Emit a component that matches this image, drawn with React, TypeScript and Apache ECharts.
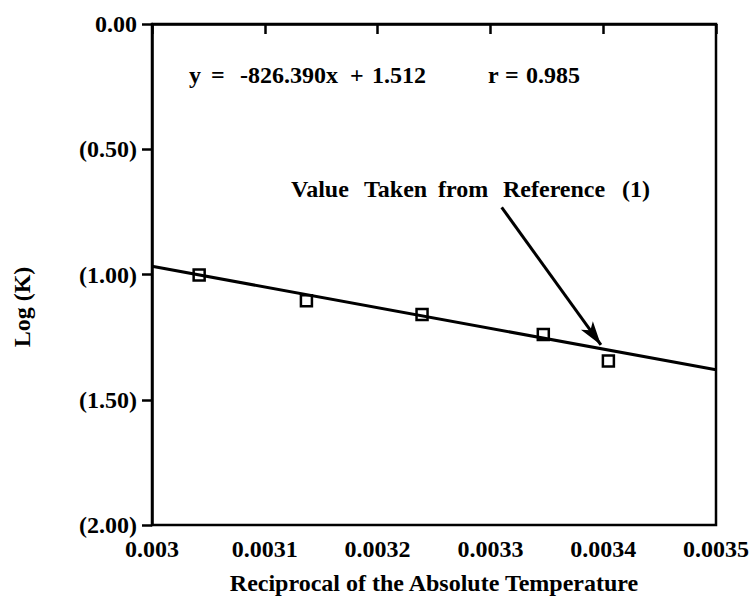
import React, { useEffect, useRef } from "react";
import * as echarts from "echarts";

// Data
const invTemp = [0.0030418, 0.0031369, 0.0032394, 0.0033469, 0.0034046];
const logK = [-1.002, -1.105, -1.16, -1.24, -1.345];
const fitSlope = -826.39;
const fitIntercept = 1.512;
const xRange = [0.003, 0.0035];
const yRange = [-2, 0];
const arrowFrom = [0.00331, -0.732];
const arrowTo = [0.003398, -1.281];
const equationParts = ["y", "=", "-826.390x", "+", "1.512", "r", "=", "0.985"];
const noteWords = ["Value", "Taken", "from", "Reference", "(1)"];

const FONT = '"Liberation Serif", "Times New Roman", serif';

export default function App() {
  const ref = useRef<HTMLDivElement>(null);
  useEffect(() => {
    if (!ref.current) return;
    const chart = echarts.init(ref.current, undefined, { renderer: "svg" });
    const points = invTemp.map((x, i) => [x, logK[i]]);
    const fit = xRange.map((x) => [x, fitSlope * x + fitIntercept]);
    const eqX = [189, 211, 240, 350, 372, 488, 505, 526];
    const noteX = [291, 364, 438, 503, 622];
    const txt = (text: string, x: number, y: number) => ({
      type: "text",
      x,
      y,
      style: {
        text,
        fill: "#000",
        font: `bold 24px ${FONT}`,
        textVerticalAlign: "middle",
        verticalAlign: "middle",
      },
    });
    chart.setOption({
      animation: false,
      backgroundColor: "#fff",
      grid: {
        left: 152,
        right: 34,
        top: 24,
        bottom: 77,
        show: true,
        borderColor: "#000",
        borderWidth: 2.5,
      },
      xAxis: {
        type: "value",
        min: xRange[0],
        max: xRange[1],
        interval: 0.0001,
        name: "Reciprocal of the Absolute Temperature",
        nameLocation: "middle",
        nameGap: 46,
        nameTextStyle: { fontFamily: FONT, fontWeight: "bold", fontSize: 24, color: "#000" },
        axisLine: { show: true, lineStyle: { color: "#000", width: 2.5 } },
        axisTick: { show: true, inside: false, length: 10, lineStyle: { color: "#000", width: 2.5 } },
        axisLabel: {
          margin: 12,
          fontFamily: FONT,
          fontWeight: "bold",
          fontSize: 24,
          color: "#000",
          formatter: (v: number) => String(+v.toFixed(4)),
        },
        splitLine: { show: false },
      },
      yAxis: {
        type: "value",
        min: yRange[0],
        max: yRange[1],
        interval: 0.5,
        axisLine: { show: true, lineStyle: { color: "#000", width: 2.5 } },
        axisTick: { show: true, inside: false, length: 10, lineStyle: { color: "#000", width: 2.5 } },
        axisLabel: {
          margin: 15,
          fontFamily: FONT,
          fontWeight: "bold",
          fontSize: 24,
          color: "#000",
          formatter: (v: number) => (v === 0 ? "0.00" : `(${Math.abs(v).toFixed(2)})`),
        },
        splitLine: { show: false },
      },
      series: [
        {
          type: "scatter",
          data: points,
          symbol: "rect",
          symbolSize: 11,
          itemStyle: { color: "#fff", borderColor: "#000", borderWidth: 2.5, opacity: 1 },
          z: 2,
        },
        {
          type: "line",
          data: fit,
          showSymbol: false,
          symbol: "none",
          lineStyle: { color: "#000", width: 3 },
          z: 3,
          markLine: {
            silent: true,
            symbol: ["none", "arrow"],
            symbolSize: [11, 24],
            label: { show: false },
            lineStyle: { color: "#000", width: 3, type: "solid" },
            data: [[{ coord: arrowFrom }, { coord: arrowTo }]],
          },
        },
      ],
      graphic: [
        ...equationParts.map((t, i) => txt(t, eqX[i], 75)),
        ...noteWords.map((t, i) => txt(t, noteX[i], 189)),
        {
          type: "text",
          x: 22,
          y: 307,
          rotation: Math.PI / 2,
          style: {
            text: "Log (K)",
            fill: "#000",
            font: `bold 24px ${FONT}`,
            textAlign: "center",
            textVerticalAlign: "middle",
            align: "center",
            verticalAlign: "middle",
          },
        },
      ],
    });
    return () => chart.dispose();
  }, []);
  return (
    <div
      ref={ref}
      style={{ position: "fixed", left: 0, top: 0, width: 752, height: 602 }}
    />
  );
}
